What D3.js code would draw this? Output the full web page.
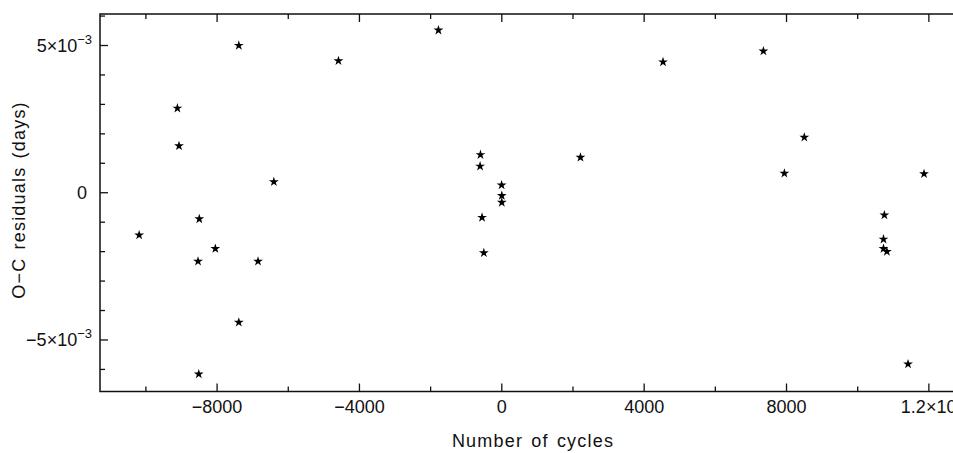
<!DOCTYPE html>
<html>
<head>
<meta charset="utf-8">
<script src="https://cdn.jsdelivr.net/npm/d3@7"></script>
<style>
  body { margin: 0; background: #fff; }
  svg text { font-family: "Liberation Sans", Arial, sans-serif; fill: #111; }
</style>
</head>
<body>
<div id="chart"></div>
<script>
// O-C timing residuals
const cycles = [-10190, -9115, -9070, -8500, -8535, -8515, -8050, -7390, -7390, -6850,
    -6405, -4590, -1780, -600, -610, -555, -505, -5, 0, 0,
    2210, 4530, 7350, 7940, 8500, 10750, 10725, 10725, 10820, 11415, 11865];
const residuals = [-1.44e-3, 2.87e-3, 1.59e-3, -0.89e-3, -2.33e-3, -6.16e-3, -1.90e-3, 5.0e-3, -4.40e-3, -2.33e-3,
    0.37e-3, 4.48e-3, 5.52e-3, 1.29e-3, 0.90e-3, -0.84e-3, -2.04e-3, 0.26e-3, -0.10e-3, -0.33e-3,
    1.20e-3, 4.44e-3, 4.81e-3, 0.66e-3, 1.88e-3, -0.76e-3, -1.58e-3, -1.90e-3, -2.00e-3, -5.82e-3, 0.64e-3];

const xMajor = [-8000, -4000, 0, 4000, 8000, 12000];
const xMajorLabels = ["\u22128000", "\u22124000", "0", "4000", "8000", "1.2\u00d710|4"];
const xMinor = [-10000, -6000, -2000, 2000, 6000, 10000];
const yMajor = [-5e-3, 0, 5e-3];
const yMajorLabels = ["\u22125\u00d710|\u22123", "0", "5\u00d710|\u22123"];
const yMinor = [-6e-3, -4e-3, -3e-3, -2e-3, -1e-3, 1e-3, 2e-3, 3e-3, 4e-3, 6e-3];

const width = 953, height = 453;
const svg = d3.select("#chart").append("svg")
    .attr("width", width)
    .attr("height", height);

let x = d3.scaleLinear().domain([-11290, 12900]).range([100, 960.9]);
let y = d3.scaleLinear().domain([-6.75e-3, 6.07e-3]).range([391.5, 14]);

const stroke = "#111";
const plotTop = y.range()[1], plotBottom = y.range()[0];
const plotLeft = x.range()[0], plotRight = x.range()[1];

// frame
svg.append("rect")
    .attr("x", plotLeft).attr("y", plotTop)
    .attr("width", plotRight - plotLeft).attr("height", plotBottom - plotTop)
    .attr("fill", "none")
    .attr("stroke", stroke)
    .attr("stroke-width", 1.5);

// inward ticks on bottom and top
function xTicks(vals, len) {
    svg.append("g").selectAll("line.b").data(vals).enter().append("line")
        .attr("x1", d => x(d)).attr("x2", d => x(d))
        .attr("y1", plotBottom).attr("y2", plotBottom - len)
        .attr("stroke", stroke).attr("stroke-width", 1.3);
    svg.append("g").selectAll("line.t").data(vals).enter().append("line")
        .attr("x1", d => x(d)).attr("x2", d => x(d))
        .attr("y1", plotTop).attr("y2", plotTop + len)
        .attr("stroke", stroke).attr("stroke-width", 1.3);
}
function yTicks(vals, len) {
    svg.append("g").selectAll("line").data(vals).enter().append("line")
        .attr("x1", plotLeft).attr("x2", plotLeft + len)
        .attr("y1", d => y(d)).attr("y2", d => y(d))
        .attr("stroke", stroke).attr("stroke-width", 1.3);
}
xTicks(xMajor, 8);
xTicks(xMinor, 5);
yTicks(yMajor, 8);
yTicks(yMinor, 5);

// labels with optional superscript after "|"
function addLabel(g, str) {
    let parts = str.split("|");
    g.append("tspan").text(parts[0]);
    if (parts.length > 1) {
        g.append("tspan").attr("dy", -8).attr("font-size", 13).text(parts[1]);
    }
}

xMajor.forEach(function (d, i) {
    let t = svg.append("text")
        .attr("x", x(d))
        .attr("y", 413)
        .attr("font-size", 18)
        .attr("text-anchor", i === 5 ? "start" : "middle")
        .attr("dx", i === 5 ? -28 : 0);
    addLabel(t, xMajorLabels[i]);
});

yMajor.forEach(function (d, i) {
    let t = svg.append("text")
        .attr("x", 92)
        .attr("y", y(d) + 6.5)
        .attr("font-size", 18)
        .attr("text-anchor", "end");
    addLabel(t, yMajorLabels[i]);
    if (yMajorLabels[i] === "0") t.attr("x", 87);
});

svg.append("text")
    .attr("x", 533).attr("y", 447)
    .attr("font-size", 18)
    .attr("text-anchor", "middle")
    .attr("letter-spacing", 1.2)
    .attr("word-spacing", 2)
    .text("Number of cycles");

svg.append("text")
    .attr("transform", "translate(25,200) rotate(-90)")
    .attr("font-size", 18)
    .attr("text-anchor", "middle")
    .attr("letter-spacing", 1.2)
    .attr("word-spacing", 2)
    .text("O\u2212C residuals (days)");

// points
const star = d3.symbol().type(d3.symbolStar).size(30);
svg.append("g").selectAll("path").data(cycles).enter().append("path")
    .attr("d", star)
    .attr("transform", (d, i) => `translate(${x(d)},${y(residuals[i])})`)
    .attr("fill", "#000");
</script>
</body>
</html>
